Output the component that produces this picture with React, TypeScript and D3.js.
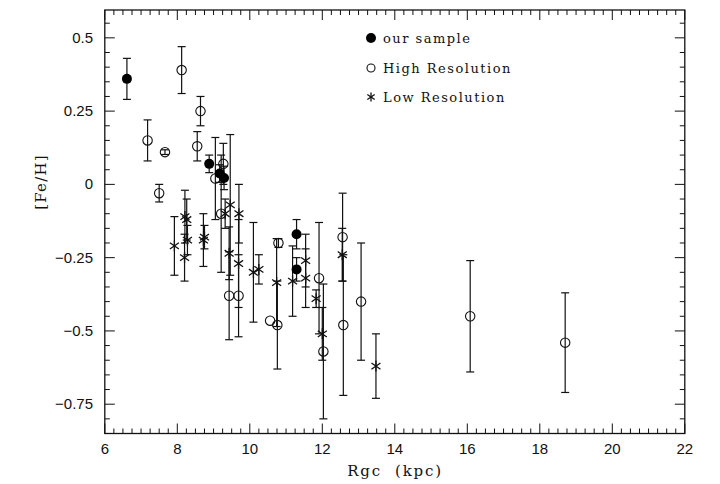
import React from "react";
import * as d3 from "d3";

const ourX = [6.61, 8.88, 9.17, 9.29, 11.29, 11.29];
const ourY = [0.36, 0.07, 0.037, 0.022, -0.17, -0.29];
const ourErr = [0.07, 0.03, 0.03, 0.04, 0.05, 0.04];

const highX = [7.18, 7.66, 7.5, 8.12, 8.64, 8.55, 9.05, 9.27, 9.21, 9.43, 9.69, 10.79, 10.56, 10.76, 11.91, 12.03, 12.56, 12.58, 13.07, 16.08, 18.7];
const highY = [0.15, 0.11, -0.03, 0.39, 0.25, 0.13, 0.02, 0.07, -0.1, -0.38, -0.38, -0.2, -0.465, -0.48, -0.32, -0.57, -0.18, -0.48, -0.4, -0.45, -0.54];
const highErr = [0.07, 0.008, 0.03, 0.08, 0.05, 0.05, 0.14, 0.07, 0.2, 0.15, 0.14, 0.015, 0, 0.15, 0.19, 0.23, 0.15, 0.24, 0.2, 0.19, 0.17];

const lowX = [7.92, 8.21, 8.26, 8.28, 8.2, 8.72, 8.75, 9.32, 9.46, 9.7, 9.43, 9.69, 10.1, 10.25, 10.74, 11.18, 11.54, 11.54, 11.83, 12.0, 12.55, 13.48];
const lowY = [-0.21, -0.11, -0.12, -0.19, -0.25, -0.19, -0.18, -0.1, -0.07, -0.1, -0.235, -0.27, -0.3, -0.29, -0.335, -0.33, -0.26, -0.32, -0.39, -0.51, -0.24, -0.62];
const lowErr = [0.1, 0.09, 0.07, 0.05, 0.08, 0.09, 0.04, 0.05, 0.24, 0.1, 0.09, 0.15, 0.17, 0.05, 0.15, 0.12, 0.09, 0.1, 0.03, 0.09, 0.09, 0.11];

const xTickLabels = [6, 8, 10, 12, 14, 16, 18, 20, 22];
const yTickValues = [-0.75, -0.5, -0.25, 0, 0.25, 0.5];
const yTickLabels = ["\u22120.75", "\u22120.5", "\u22120.25", "0", "0.25", "0.5"];
const legendLabels = ["our sample", "High Resolution", "Low Resolution"];

const W = 720;
const H = 484;
const L = 104.8, R = 684.8, T = 10, B = 433.5;

const x = d3.scaleLinear().domain([6, 22]).range([L, R]);
const y = d3.scaleLinear().domain([-0.85, 0.595]).range([B, T]);

const INK = "#111";

function Star({ cx, cy, s = 5.5 }: { cx: number; cy: number; s?: number }) {
  const a = (35 * Math.PI) / 180;
  const dx = s * Math.cos(a);
  const dy = s * Math.sin(a);
  return (
    <g stroke={INK} strokeWidth={1.3}>
      <line x1={cx} y1={cy - s} x2={cx} y2={cy + s} />
      <line x1={cx - dx} y1={cy - dy} x2={cx + dx} y2={cy + dy} />
      <line x1={cx - dx} y1={cy + dy} x2={cx + dx} y2={cy - dy} />
    </g>
  );
}

function ErrBar({ xv, yv, e }: { xv: number; yv: number; e: number }) {
  if (e <= 0) return null;
  const px = x(xv);
  const y1 = y(yv + e);
  const y2 = y(yv - e);
  const c = 4;
  return (
    <g stroke={INK} strokeWidth={1.2}>
      <line x1={px} x2={px} y1={y1} y2={y2} />
      <line x1={px - c} x2={px + c} y1={y1} y2={y1} />
      <line x1={px - c} x2={px + c} y1={y2} y2={y2} />
    </g>
  );
}

export default function App() {
  const xMinor = d3.range(6, 22.001, 0.25);
  const yMinor = d3.range(-0.85, 0.6, 0.05).map((v) => Math.round(v * 100) / 100);
  const isXMajor = (v: number) => Math.abs(v / 2 - Math.round(v / 2)) < 1e-6;
  const isYMajor = (v: number) => Math.abs(v / 0.25 - Math.round(v / 0.25)) < 1e-6;

  return (
    <svg
      width={W}
      height={H}
      style={{ position: "absolute", left: 0, top: 0, background: "#fff" }}
    >
      <rect x={0} y={0} width={W} height={H} fill="#fff" />
      {highX.map((v, i) => (
        <ErrBar key={"he" + i} xv={v} yv={highY[i]} e={highErr[i]} />
      ))}
      {lowX.map((v, i) => (
        <ErrBar key={"le" + i} xv={v} yv={lowY[i]} e={lowErr[i]} />
      ))}
      {ourX.map((v, i) => (
        <ErrBar key={"oe" + i} xv={v} yv={ourY[i]} e={ourErr[i]} />
      ))}
      {highX.map((v, i) => (
        <circle key={"h" + i} cx={x(v)} cy={y(highY[i])} r={4.7} fill="none" stroke={INK} strokeWidth={1.1} />
      ))}
      {lowX.map((v, i) => (
        <Star key={"l" + i} cx={x(v)} cy={y(lowY[i])} />
      ))}
      {ourX.map((v, i) => (
        <circle key={"o" + i} cx={x(v)} cy={y(ourY[i])} r={5} fill="#000" />
      ))}
      <rect x={L} y={T} width={R - L} height={B - T} fill="none" stroke={INK} strokeWidth={1.3} />
      {xMinor.map((v, i) => {
        const len = isXMajor(v) ? 10 : 5;
        const px = x(v);
        return (
          <g key={"xt" + i} stroke={INK} strokeWidth={1}>
            <line x1={px} x2={px} y1={B} y2={B - len} />
            <line x1={px} x2={px} y1={T} y2={T + len} />
          </g>
        );
      })}
      {yMinor.map((v, i) => {
        const len = isYMajor(v) ? 10 : 5;
        const py = y(v);
        return (
          <g key={"yt" + i} stroke={INK} strokeWidth={1}>
            <line x1={L} x2={L + len} y1={py} y2={py} />
            <line x1={R} x2={R - len} y1={py} y2={py} />
          </g>
        );
      })}
      <g fontFamily="Liberation Sans, Arial, sans-serif" fontSize={15} fill={INK}>
        {xTickLabels.map((v) => (
          <text key={"xl" + v} x={x(v)} y={454} textAnchor="middle">
            {v}
          </text>
        ))}
        {yTickValues.map((v, i) => (
          <text key={"yl" + v} x={93} y={y(v) + 5} textAnchor="end">
            {yTickLabels[i]}
          </text>
        ))}
      </g>
      <g fontFamily="DejaVu Serif, serif" fill={INK}>
        <text x={395} y={476} textAnchor="middle" fontSize={15} letterSpacing={1.8}>
          {"Rgc\u00a0\u00a0(kpc)"}
        </text>
        <text
          transform={`translate(46, 182) rotate(-90)`}
          textAnchor="middle"
          fontSize={15}
          letterSpacing={1.2}
        >
          [Fe/H]
        </text>
      </g>
      <g fontFamily="DejaVu Serif, serif" fontSize={13} fill={INK} letterSpacing={1.5}>
        <circle cx={371} cy={38} r={5} fill="#000" />
        <text x={383} y={43}>{legendLabels[0]}</text>
        <circle cx={371} cy={68} r={4} fill="none" stroke={INK} strokeWidth={1.1} />
        <text x={383} y={73}>{legendLabels[1]}</text>
        <Star cx={371} cy={97} s={4.5} />
        <text x={383} y={102}>{legendLabels[2]}</text>
      </g>
    </svg>
  );
}
